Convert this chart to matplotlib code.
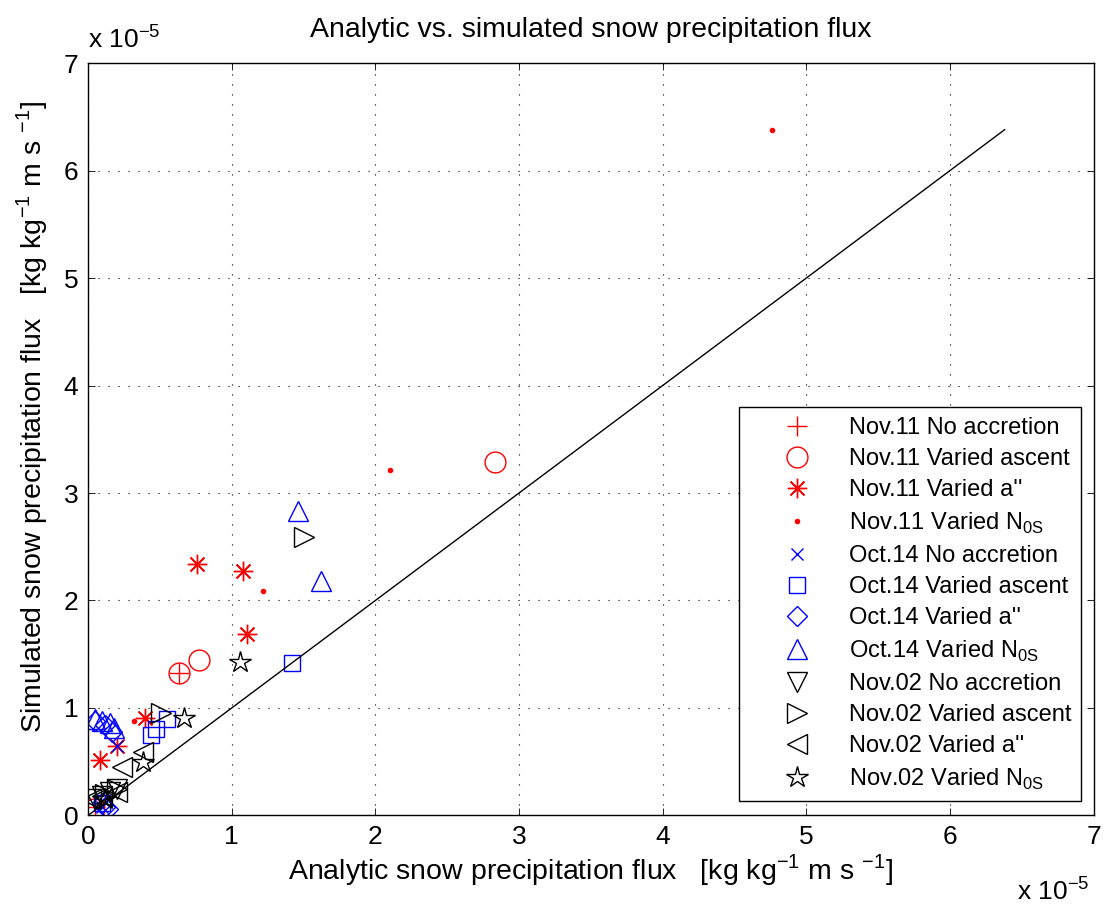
import matplotlib
matplotlib.use("Agg")
import matplotlib.pyplot as plt

plt.rcParams['font.family'] = ['Liberation Sans', 'DejaVu Sans']
plt.rcParams['mathtext.fontset'] = 'custom'
plt.rcParams['mathtext.rm'] = 'Liberation Sans'

# values in units of 1e-5 kg kg^-1 m s^-1 (analytic x, simulated y)
nov11_noacc_x = [0.63, 0.05]
nov11_noacc_y = [1.33, 0.08]
nov11_asc_x = [2.83, 0.77, 0.63, 0.04]
nov11_asc_y = [3.29, 1.45, 1.33, 0.06]
nov11_a_x = [0.76, 1.08, 1.11, 0.40, 0.20, 0.08]
nov11_a_y = [2.34, 2.27, 1.69, 0.91, 0.65, 0.52]
nov11_n0s_x = [4.76, 2.10, 1.22, 0.32, 0.08]
nov11_n0s_y = [6.38, 3.21, 2.09, 0.88, 0.10]

oct14_noacc_x = [0.20, 0.10]
oct14_noacc_y = [0.65, 0.08]
oct14_asc_x = [1.42, 0.55, 0.47, 0.44, 0.10]
oct14_asc_y = [1.42, 0.90, 0.80, 0.75, 0.12]
oct14_a_x = [0.05, 0.12, 0.17, 0.10, 0.12, 0.14]
oct14_a_y = [0.88, 0.84, 0.78, 0.12, 0.08, 0.06]
oct14_n0s_x = [1.46, 1.62, 0.05, 0.10, 0.15, 0.18]
oct14_n0s_y = [2.83, 2.18, 0.90, 0.88, 0.86, 0.81]

nov02_noacc_x = [0.05, 0.10, 0.15, 0.20]
nov02_noacc_y = [0.15, 0.18, 0.22, 0.25]
nov02_asc_x = [1.50, 0.51, 0.12, 0.20]
nov02_asc_y = [2.59, 0.95, 0.20, 0.25]
nov02_a_x = [0.38, 0.24, 0.20, 0.02, 0.10]
nov02_a_y = [0.59, 0.45, 0.22, 0.15, 0.18]
nov02_n0s_x = [1.06, 0.67, 0.38, 0.12]
nov02_n0s_y = [1.43, 0.91, 0.50, 0.15]

n0s = r'Varied N$_{\mathregular{0S}}$'
series = [
    (nov11_noacc_x, nov11_noacc_y, 'r', '+', 15, 'Nov.11 No accretion'),
    (nov11_asc_x, nov11_asc_y, 'r', 'o', 15, 'Nov.11 Varied ascent'),
    (nov11_a_x, nov11_a_y, 'r', (8, 2, 0), 14, "Nov.11 Varied a''"),
    (nov11_n0s_x, nov11_n0s_y, 'r', '.', 6, 'Nov.11 ' + n0s),
    (oct14_noacc_x, oct14_noacc_y, 'b', 'x', 9, 'Oct.14 No accretion'),
    (oct14_asc_x, oct14_asc_y, 'b', 's', 11, 'Oct.14 Varied ascent'),
    (oct14_a_x, oct14_a_y, 'b', 'D', 10, "Oct.14 Varied a''"),
    (oct14_n0s_x, oct14_n0s_y, 'b', '^', 15, 'Oct.14 ' + n0s),
    (nov02_noacc_x, nov02_noacc_y, 'k', 'v', 15, 'Nov.02 No accretion'),
    (nov02_asc_x, nov02_asc_y, 'k', '>', 15, 'Nov.02 Varied ascent'),
    (nov02_a_x, nov02_a_y, 'k', '<', 15, "Nov.02 Varied a''"),
    (nov02_n0s_x, nov02_n0s_y, 'k', '*', 16, 'Nov.02 ' + n0s),
]

fig = plt.figure(figsize=(11.07, 9.07), dpi=100)
ax = fig.add_axes([0.0795, 0.1009, 0.9085, 0.8296])

for x, y, c, m, ms, lab in series:
    fc = c if m == '.' else 'none'
    ax.plot(x, y, linestyle='none', marker=m, color=c, markerfacecolor=fc,
            markersize=ms, markeredgewidth=1.0, label=lab)

lim = max(nov11_n0s_y)
ax.plot([0, lim], [0, lim], color='k', lw=1.0)

ax.set_xlim(0, 7)
ax.set_ylim(0, 7)
ax.set_xticks(range(8))
ax.set_yticks(range(8))
ax.tick_params(direction='in', top=True, right=True, length=5, width=0.6,
               labelsize=19, pad=7)
ax.grid(True, color='k', linestyle=(0, (1, 8)), linewidth=0.8)
for s in ax.spines.values():
    s.set_linewidth(1.0)

ax.set_title('Analytic vs. simulated snow precipitation flux', fontsize=20.5, pad=19)
ax.set_xlabel(r'Analytic snow precipitation flux   [kg kg$^{\mathregular{-1}}$ m s $^{\mathregular{-1}}$]',
              fontsize=20.5, labelpad=2)
ax.set_ylabel(r'Simulated snow precipitation flux   [kg kg$^{\mathregular{-1}}$ m s $^{\mathregular{-1}}$]',
              fontsize=20.5)
ax.yaxis.set_label_coords(-0.038, 0.53)

fig.text(0.0795, 0.947, r'x 10$^{\mathregular{-5}}$', fontsize=19, ha='left', va='baseline')
fig.text(0.9187, 0.008, r'x 10$^{\mathregular{-5}}$', fontsize=19, ha='left', va='baseline')

leg = ax.legend(loc='lower right', bbox_to_anchor=(0.987, 0.019), fontsize=17,
                frameon=True, fancybox=False, edgecolor='k', framealpha=1,
                handlelength=4.1, handletextpad=0.15, borderpad=0.4,
                labelspacing=0.39, numpoints=1, borderaxespad=0)
leg.get_frame().set_linewidth(1.0)

fig.savefig('out.png', dpi=100)
